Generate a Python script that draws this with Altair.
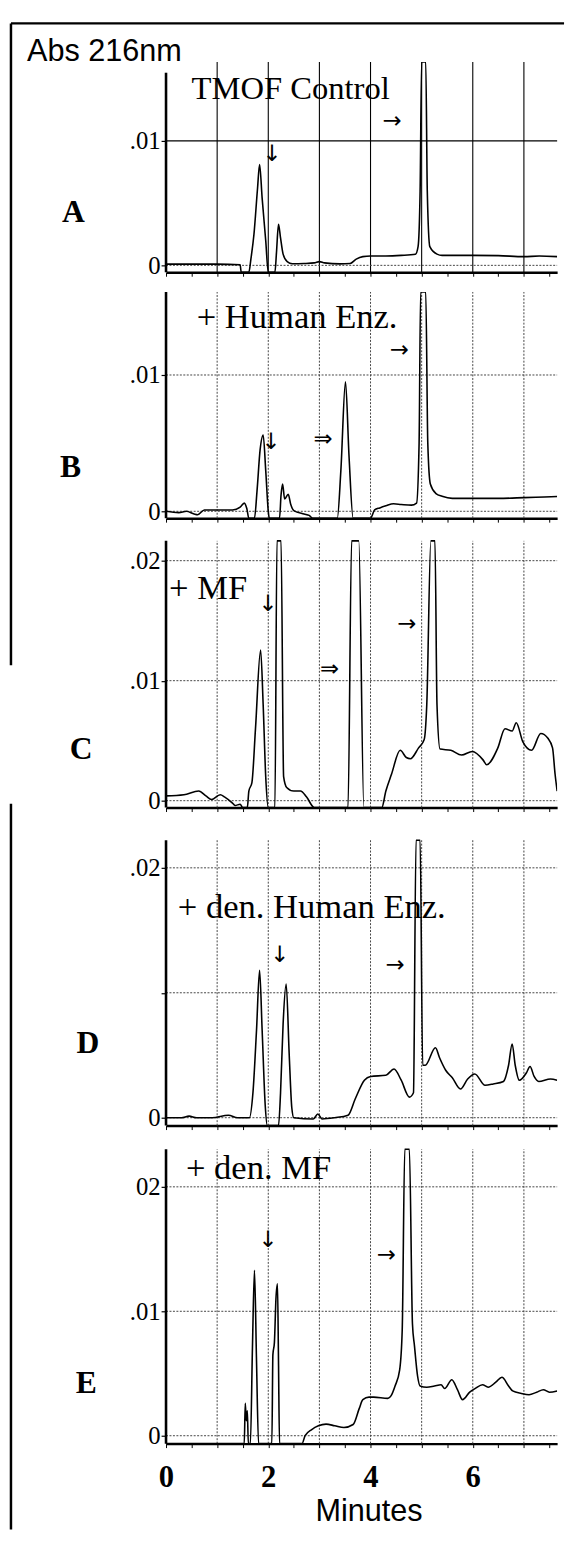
import altair as alt
import pandas as pd

SERIF = "Liberation Serif, DejaVu Serif"
SANS = "Liberation Sans"
ARROW_FONT = "DejaVu Sans"

# ---------------- data ----------------
T_MAX = 7.65
X_TICK_VALUES = [0, 0.5, 1, 1.5, 2, 2.5, 3, 3.5, 4, 4.5, 5, 5.5, 6, 6.5, 7, 7.5]
X_GRID = [1, 2, 3, 4, 5, 6, 7]
X_LABELED = [0, 2, 4, 6]

A_T = [0, 0.5, 1.0, 1.45, 1.47, 1.62, 1.66, 1.72, 1.79, 1.83, 1.88, 1.95, 2.0, 2.13, 2.16, 2.2,
       2.24, 2.29, 2.37, 2.47, 2.7, 2.9, 3.0, 3.1, 3.4, 3.6, 3.72, 3.85, 4.0, 4.3, 4.6, 4.88,
       4.93, 4.97, 5.0, 5.08, 5.11, 5.16, 5.3, 5.4, 5.6, 6.0, 6.5, 7.0, 7.3, 7.65]
A_ABS = [0.0001, 0.0001, 0.0001, 0.00005, -0.001, -0.001, 0.0005, 0.0025, 0.0062, 0.0081, 0.0054,
         0.002, -0.001, -0.001, 0.001, 0.0033, 0.0022, 0.0009, 0.0003, 0.00013, 0.00015, 0.0002,
         0.0003, 0.0002, 0.00012, 0.00015, 0.0005, 0.0007, 0.00075, 0.00075, 0.0008, 0.0009,
         0.0015, 0.006, 0.03, 0.03, 0.006, 0.0015, 0.0009, 0.0008, 0.0008, 0.0008, 0.00078,
         0.0007, 0.00075, 0.0007]

B_T = [0, 0.25, 0.4, 0.55, 0.62, 0.75, 1.0, 1.3, 1.45, 1.53, 1.58, 1.62, 1.73, 1.78, 1.84, 1.9,
       1.95, 2.0, 2.02, 2.22, 2.25, 2.28, 2.32, 2.39, 2.44, 2.5, 2.7, 2.8, 2.87, 3.35, 3.42, 3.51,
       3.58, 3.66, 4.0, 4.08, 4.18, 4.3, 4.45, 4.6, 4.8, 4.9, 4.95, 4.98, 5.08, 5.12, 5.17, 5.28,
       5.4, 5.6, 6.0, 6.5, 7.0, 7.4, 7.65]
B_ABS = [0.0, -0.0001, 0.0, -0.0002, -0.00025, 0.0001, 0.0001, 0.0001, 0.0003, 0.0006, 0.0002,
         -0.001, -0.001, 0.0015, 0.0045, 0.0056, 0.003, 0.0, -0.001, -0.001, 0.0012, 0.002, 0.0009,
         0.00125, 0.0005, 0.00005, -0.0002, -0.0003, -0.001, -0.001, 0.003, 0.0095, 0.004, -0.001,
         -0.001, 0.0001, 0.00025, 0.0004, 0.00055, 0.0005, 0.00045, 0.0006, 0.005, 0.03, 0.03,
         0.005, 0.002, 0.0013, 0.0011, 0.00095, 0.00095, 0.00095, 0.001, 0.00105, 0.00108]

C_T = [0, 0.35, 0.64, 0.78, 0.89, 1.06, 1.15, 1.3, 1.35, 1.45, 1.5, 1.59, 1.62, 1.68, 1.75, 1.85,
       1.9, 1.95, 2.0, 2.13, 2.17, 2.25, 2.3, 2.36, 2.5, 2.63, 2.75, 2.9, 3.56, 3.63, 3.77, 3.87,
       4.22, 4.3, 4.41, 4.58, 4.7, 4.78, 4.94, 5.05, 5.1, 5.18, 5.26, 5.3, 5.36, 5.57, 5.78, 5.99,
       6.2, 6.27, 6.49, 6.63, 6.77, 6.85, 6.98, 7.15, 7.33, 7.47, 7.56, 7.61, 7.65]
C_ABS = [0.0004, 0.0005, 0.0008, 0.0004, 0.0001, 0.0005, 0.0003, -0.0002, -0.0004, -0.0003, -0.001,
         -0.001, 0.0008, 0.0015, 0.006, 0.01255, 0.008, 0.002, -0.001, -0.001, 0.03, 0.03, 0.002,
         0.0011, 0.0008, 0.0008, 0.0003, -0.001, -0.001, 0.03, 0.03, -0.001, -0.001, 0.0008,
         0.0022, 0.0042, 0.0036, 0.0035, 0.0044, 0.0051, 0.008, 0.03, 0.03, 0.008, 0.0043, 0.0042,
         0.0038, 0.0041, 0.0034, 0.003, 0.0044, 0.006, 0.0058, 0.0065, 0.0049, 0.0042, 0.0056,
         0.0052, 0.0044, 0.0022, 0.0008]

D_T = [0, 0.3, 0.45, 0.6, 0.9, 1.22, 1.4, 1.63, 1.7, 1.77, 1.83, 1.88, 1.94, 1.98, 2.2, 2.24,
       2.29, 2.35, 2.41, 2.46, 2.5, 2.88, 2.97, 3.05, 3.3, 3.56, 3.7, 3.88, 4.0, 4.3, 4.46, 4.6,
       4.76, 4.84, 4.89, 4.97, 5.02, 5.07, 5.27, 5.35, 5.47, 5.6, 5.76, 5.9, 6.04, 6.24, 6.4, 6.6,
       6.7, 6.77, 6.83, 6.91, 7.05, 7.12, 7.2, 7.29, 7.52, 7.65]
D_ABS = [0.0, 0.0, 0.00013, 0.0, 0.0, 0.0002, 0.0, 0.0, 0.002, 0.007, 0.0118, 0.007, 0.001, -0.001,
         -0.001, 0.002, 0.0075, 0.0107, 0.005, 0.0008, 0.0, -0.0001, 0.0003, -0.0001, 0.0, 0.0002,
         0.0015, 0.003, 0.0033, 0.0034, 0.0039, 0.003, 0.00165, 0.002, 0.03, 0.03, 0.0042, 0.0042,
         0.0056, 0.0048, 0.0038, 0.0032, 0.0023, 0.0031, 0.0035, 0.0026, 0.0027, 0.0029, 0.0042,
         0.0059, 0.0042, 0.003, 0.0036, 0.0041, 0.0033, 0.0029, 0.0031, 0.003]

E_T = [0, 1.53, 1.55, 1.57, 1.59, 1.61, 1.65, 1.69, 1.73, 1.77, 1.81, 2.07, 2.09, 2.12, 2.15, 2.18,
       2.2, 2.22, 2.66, 2.72, 2.85, 2.98, 3.13, 3.3, 3.48, 3.66, 3.78, 3.85, 3.97, 4.06, 4.34, 4.4,
       4.48, 4.57, 4.62, 4.67, 4.76, 4.82, 4.86, 4.92, 4.97, 5.1, 5.25, 5.38, 5.45, 5.59, 5.7,
       5.8, 5.94, 6.05, 6.19, 6.3, 6.45, 6.57, 6.7, 6.78, 6.95, 7.1, 7.25, 7.38, 7.5, 7.65]
E_ABS = [-0.001, -0.001, 0.0026, 0.0012, 0.002, -0.001, -0.001, 0.007, 0.0133, 0.006, -0.001,
         -0.001, 0.0065, 0.0075, 0.011, 0.0122, 0.006, -0.001, -0.001, 0.0, 0.0005, 0.0008,
         0.00093, 0.0008, 0.00066, 0.0009, 0.0022, 0.0029, 0.0031, 0.0031, 0.003, 0.0032, 0.004,
         0.0053, 0.0085, 0.03, 0.03, 0.009, 0.0072, 0.0048, 0.004, 0.0039, 0.004, 0.0041, 0.0038,
         0.0045, 0.0037, 0.0029, 0.0035, 0.0038, 0.0041, 0.0039, 0.0043, 0.0047, 0.004, 0.0036,
         0.0034, 0.0033, 0.0035, 0.0037, 0.0035, 0.0036]

TRACES_T = [A_T, B_T, C_T, D_T, E_T]
TRACES_ABS = [A_ABS, B_ABS, C_ABS, D_ABS, E_ABS]

PANEL_LETTERS = ["A", "B", "C", "D", "E"]
LETTER_T = [-1.81, -1.87, -1.66, -1.53, -1.56]
LETTER_Y = [0.00429, 0.00326, 0.00428, 0.0060, 0.0042]

TITLES = ["TMOF Control", "+ Human Enz.", "+ MF", "+ den. Human Enz.", "+ den. MF"]
TITLE_T = [0.50, 0.60, 0.06, 0.23, 0.39]
TITLE_Y = [0.01415, 0.01428, 0.0177, 0.01684, 0.0215]

ARROW_TEXT = [["→", "↓"], ["→", "⇒", "↓"], ["↓", "⇒", "→"], ["↓", "→"], ["↓", "→"]]
ARROW_T = [[4.42, 2.07], [4.56, 3.07, 2.05], [1.99, 3.2, 4.71], [2.22, 4.48], [1.99, 4.31]]
ARROW_Y = [[0.0116, 0.00897], [0.01181, 0.00529, 0.00507], [0.01638, 0.01095, 0.01473],
           [0.01304, 0.01225], [0.01571, 0.01452]]

Y_GRID_VALUES = [[0, 0.01], [0, 0.01], [0, 0.01, 0.02], [0, 0.01, 0.02], [0, 0.01, 0.02]]
Y_TICK_LABELS = [["0", ".01"], ["0", ".01"], ["0", ".01", ".02"], ["0", "", ".02"], ["0", ".01", "02"]]

Y_LABEL_TEXT = "Abs 216nm"
Y_LABEL_POS = (-2.72, 0.01714)
X_TITLE = "Minutes"

# ---------------- layout ----------------
PANEL_HEIGHT = [213, 229, 273, 302, 302]
Y_MIN = [-0.000556, -0.000507, -0.000576, -0.000632, -0.000635]
Y_MAX = [0.016349, 0.016087, 0.021893, 0.023241, 0.023333]
Y_TOP = [0.01635, 0.01609, 0.02165, 0.02221, 0.02302]
Y_AXIS_TOP = [0.01548, 0.01609, 0.02165, 0.02221, 0.02302]
WIDTH = 396


def label_expr(values, labels):
    parts = [f"abs(datum.value - {v}) < 1e-9 ? '{l}'" for v, l in zip(values, labels)]
    return " : ".join(parts) + " : ''"


def panel(i):
    last = i == 4
    xs = alt.Scale(domain=[0, T_MAX], nice=False, zero=False)
    ys = alt.Scale(domain=[Y_MIN[i], Y_MAX[i]], nice=False, zero=False)
    xaxis = alt.Axis(
        values=X_TICK_VALUES, grid=False, domainColor="black", domainWidth=2.5,
        tickColor="black", tickSize=4, tickWidth=1, labels=last,
        labelExpr=f"indexof({X_LABELED}, datum.value) >= 0 ? format(datum.value, 'd') : ''",
        labelFont=SERIF, labelFontSize=31, labelFontWeight="bold", labelColor="black",
        labelPadding=15, labelFlush=False, labelOverlap=False,
        title=X_TITLE if last else None,
        titleFont=SANS, titleFontSize=31, titleFontWeight="normal", titleColor="black",
        titleX=205, titleY=69, titleAlign="center", titleBaseline="middle",
    )
    yaxis = alt.Axis(
        values=Y_GRID_VALUES[i], labelExpr=label_expr(Y_GRID_VALUES[i], Y_TICK_LABELS[i]),
        grid=False, domain=False, tickColor="black", tickSize=5, tickWidth=1.2,
        labelFont=SERIF, labelFontSize=25, labelColor="black", labelPadding=1,
        labelFlush=False, labelOverlap=False, title=None,
    )

    def X(f):
        return alt.X(f, scale=xs, axis=xaxis)

    def Y(f):
        return alt.Y(f, scale=ys, axis=yaxis)

    solid = i == 0
    grid_color = "black" if solid else "#444"
    vgrid_df = pd.DataFrame({"t": X_GRID, "y0": Y_MIN[i], "y1": Y_TOP[i]})
    vgrid = alt.Chart(vgrid_df).mark_rule(
        color=grid_color, strokeWidth=1.1 if solid else 1,
        strokeDash=[1, 0] if solid else [2, 1.5]
    ).encode(x=X("t:Q"), y=Y("y0:Q"), y2="y1:Q")

    layers = [vgrid]
    gvals = Y_GRID_VALUES[i]
    if solid:
        dotted_vals = [v for v in gvals if v == 0]
        solid_vals = [v for v in gvals if v != 0]
    else:
        dotted_vals = gvals
        solid_vals = []
    if dotted_vals:
        hd = pd.DataFrame({"g": dotted_vals, "t0": 0.0, "t1": T_MAX})
        layers.append(alt.Chart(hd).mark_rule(color="#444", strokeWidth=1, strokeDash=[2, 1.5])
                      .encode(y=Y("g:Q"), x=X("t0:Q"), x2="t1:Q"))
    if solid_vals:
        hs = pd.DataFrame({"g": solid_vals, "t0": 0.0, "t1": T_MAX})
        layers.append(alt.Chart(hs).mark_rule(color="black", strokeWidth=1.1)
                      .encode(y=Y("g:Q"), x=X("t0:Q"), x2="t1:Q"))

    yline = pd.DataFrame({"t": [0.0], "y0": [Y_MIN[i]], "y1": [Y_AXIS_TOP[i]]})
    layers.append(alt.Chart(yline).mark_rule(color="black", strokeWidth=2.6)
                  .encode(x=X("t:Q"), y=Y("y0:Q"), y2="y1:Q"))

    tr = pd.DataFrame({"t": TRACES_T[i], "a": TRACES_ABS[i]})
    layers.append(
        alt.Chart(tr).transform_calculate(v=f"clamp(datum.a, {Y_MIN[i]}, {Y_TOP[i]})")
        .mark_line(color="black", strokeWidth=1.6, clip=True, interpolate="monotone")
        .encode(x=X("t:Q"), y=Y("v:Q"))
    )

    tt = pd.DataFrame({"tx": [TITLE_T[i]], "ty": [TITLE_Y[i]], "txt": [TITLES[i]]})
    layers.append(alt.Chart(tt).mark_text(font=SERIF, fontSize=35 if i else 33, align="left",
                                          baseline="middle", color="black")
                  .encode(x=X("tx:Q"), y=Y("ty:Q"), text="txt:N"))

    ar = pd.DataFrame({"tx": ARROW_T[i], "ty": ARROW_Y[i], "txt": ARROW_TEXT[i]})
    layers.append(alt.Chart(ar).mark_text(font=ARROW_FONT, fontSize=23, fontWeight="normal",
                                          align="center", baseline="middle", color="black")
                  .encode(x=X("tx:Q"), y=Y("ty:Q"), text="txt:N"))

    lt = pd.DataFrame({"tx": [LETTER_T[i]], "ty": [LETTER_Y[i]], "txt": [PANEL_LETTERS[i]]})
    layers.append(alt.Chart(lt).mark_text(font=SERIF, fontSize=32, fontWeight="bold",
                                          align="center", baseline="middle", color="black")
                  .encode(x=X("tx:Q"), y=Y("ty:Q"), text="txt:N"))

    if i == 0:
        yl = pd.DataFrame({"tx": [Y_LABEL_POS[0]], "ty": [Y_LABEL_POS[1]], "txt": [Y_LABEL_TEXT]})
        layers.append(alt.Chart(yl).mark_text(font=SANS, fontSize=31, align="left",
                                              baseline="middle", color="black")
                      .encode(x=X("tx:Q"), y=Y("ty:Q"), text="txt:N"))
        one = alt.Data(values=[{}])
        frame = dict(color="black", strokeWidth=2.5)
        layers.append(alt.Chart(one).mark_rule(**frame).encode(
            x=alt.value(-157), x2=alt.value(403), y=alt.value(-39)))
        layers.append(alt.Chart(one).mark_rule(**frame).encode(
            x=alt.value(-157), y=alt.value(-39), y2=alt.value(611)))
        layers.append(alt.Chart(one).mark_rule(**frame).encode(
            x=alt.value(-157), y=alt.value(751), y2=alt.value(1486)))

    return alt.layer(*layers).properties(width=WIDTH, height=PANEL_HEIGHT[i])


chart = alt.vconcat(*[panel(i) for i in range(5)], spacing=20, bounds="flush").properties(
    padding={"left": 1, "top": 4, "right": 2, "bottom": 0},
    background="white",
).configure_view(stroke=None)

chart.save("out.html", embed_options={"renderer": "svg", "actions": False})
